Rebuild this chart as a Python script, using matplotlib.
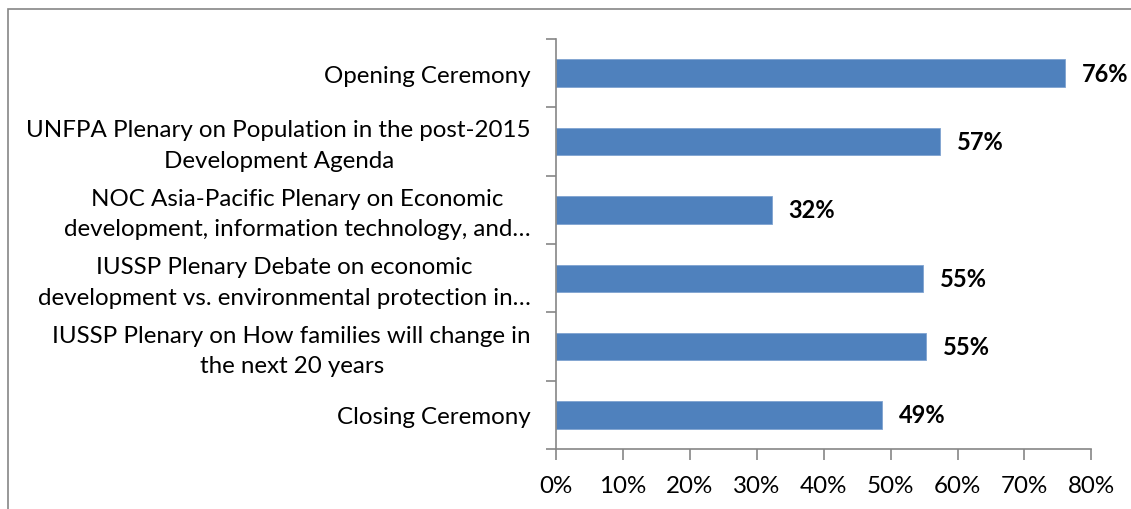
import matplotlib
matplotlib.use("Agg")
import matplotlib.pyplot as plt
from matplotlib.patches import Rectangle
from matplotlib.ticker import FixedLocator, PercentFormatter
from matplotlib.transforms import ScaledTranslation

# Share of respondents rating each plenary session, top to bottom
sessions = [
    "Opening Ceremony",
    "UNFPA Plenary on Population in the post-2015\nDevelopment Agenda",
    "NOC Asia-Pacific Plenary on Economic\ndevelopment, information technology, and…",
    "IUSSP Plenary Debate on economic\ndevelopment vs. environmental protection in…",
    "IUSSP Plenary on How families will change in\nthe next 20 years",
    "Closing Ceremony",
]
shares = [76.0, 57.4, 32.2, 54.9, 55.3, 48.7]
x_ticks = [0, 10, 20, 30, 40, 50, 60, 70, 80]

BAR_COLOR = "#4F81BD"
AXIS_GRAY = "#868686"
plt.rcParams["font.family"] = ["Lato", "DejaVu Sans"]

fig = plt.figure(figsize=(11.31, 5.10), dpi=100)
ax = fig.add_axes([0.4916, 0.1176, 0.9650 - 0.4916, 0.9216 - 0.1176])

ypos = list(range(len(sessions)))
ax.barh(ypos, shares, height=0.4, color=BAR_COLOR, edgecolor="#7fa3d0", linewidth=0.6)
ax.set_ylim(len(sessions) - 0.5, -0.5)
ax.set_xlim(0, 80)

for y, v in zip(ypos, shares):
    ax.text(v + 2.5, y, f"{v:.0f}%", va="center", ha="left",
            fontsize=17, fontweight="bold", color="black")

ax.set_yticks(ypos)
ax.set_yticklabels(sessions, fontsize=17.4, multialignment="center", linespacing=1.55)
ax.tick_params(axis="y", which="major", length=0, pad=18)
ax.yaxis.set_minor_locator(FixedLocator([i - 0.5 for i in range(len(sessions) + 1)]))
ax.tick_params(axis="y", which="minor", length=7, width=1.2, color=AXIS_GRAY)

ax.set_xticks(x_ticks)
ax.xaxis.set_major_formatter(PercentFormatter(decimals=0))
ax.tick_params(axis="x", length=8, width=1.2, color=AXIS_GRAY, labelsize=17.4, pad=11)

for side in ("top", "right"):
    ax.spines[side].set_visible(False)
for side in ("left", "bottom"):
    ax.spines[side].set_color(AXIS_GRAY)
    ax.spines[side].set_linewidth(1.2)

# two-line labels sit a little high against their bar
lift = ScaledTranslation(0, 3 / 100, fig.dpi_scale_trans)
for lbl in ax.get_yticklabels():
    if "\n" in lbl.get_text():
        lbl.set_transform(lbl.get_transform() + lift)

# chart area border, running off the right and bottom edges
fig.patches.append(Rectangle((8 / 1131, -0.1), 1.2, 1.1 - 10 / 510,
                             transform=fig.transFigure, fill=False,
                             edgecolor=AXIS_GRAY, linewidth=1.2))

fig.savefig("out.png", dpi=100)
